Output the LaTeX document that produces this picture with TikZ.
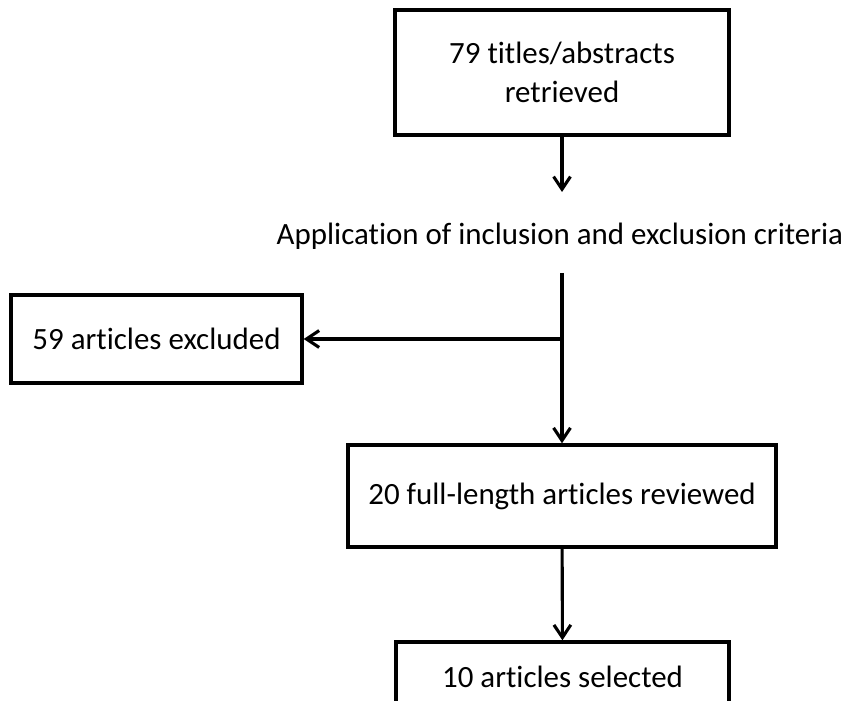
\documentclass[tikz,border=0pt]{standalone}
\usepackage{fontspec}
\setmainfont{Carlito}[RawFeature=-liga]
\usetikzlibrary{positioning,arrows.meta}

\begin{document}
\begin{tikzpicture}[x=0.025cm,y=-0.025cm,
 b/.style={draw,line width=2.4pt,align=center,font=\fontsize{22}{28}\selectfont,inner sep=0pt},
 a/.style={-{Straight Barb[length=9pt,width=12pt,line width=2.2pt]},line width=2.2pt}]
\useasboundingbox (0,0) rectangle (848,701);
\node[b,minimum width=8.35cm,minimum height=3.125cm] (top) at (562,72.5) {79 titles/abstracts\\retrieved};
\node[font=\fontsize{22}{28}\selectfont,inner sep=0pt] (crit) at (560,236) {Application of inclusion and exclusion criteria};
\node[b,minimum width=7.275cm,minimum height=2.2cm] (excl) at (156.5,339) {59 articles excluded};
\node[b,minimum width=10.7cm,minimum height=2.55cm] (full) at (562,496) {20 full-length articles reviewed};
\node[b,minimum width=8.325cm,minimum height=1.75cm] (sel) at (562.5,677) {10 articles selected};
\coordinate (c1) at (562,192);
\coordinate (c2) at (562,273);
\coordinate (c3) at (562,339);
\draw[a] (top) -- (c1);
\draw[a] (c2) -- (full);
\draw[a] (c3) -- (excl);
\draw[a] (full) -- (sel);
\end{tikzpicture}
\end{document}
